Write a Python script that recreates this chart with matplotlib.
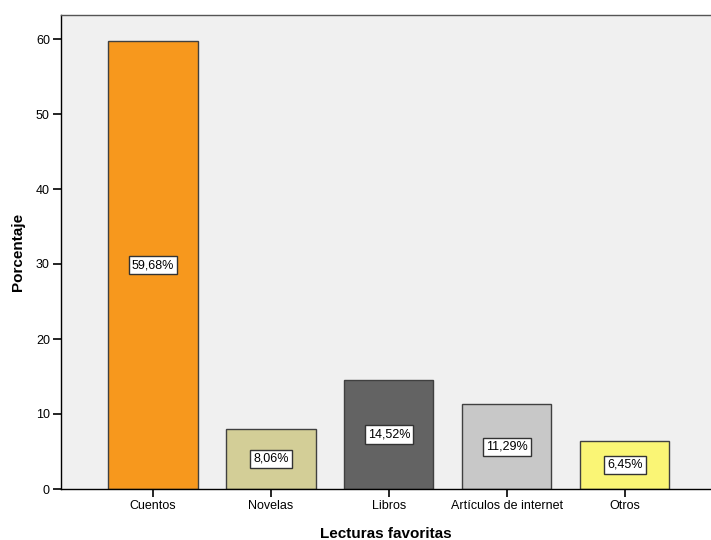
import matplotlib
matplotlib.use("Agg")
import matplotlib.pyplot as plt

categories = ["Cuentos", "Novelas", "Libros", "Artículos de internet", "Otros"]
values = [59.68, 8.06, 14.52, 11.29, 6.45]
labels = ["59,68%", "8,06%", "14,52%", "11,29%", "6,45%"]
colors = ["#F7981D", "#D3CE97", "#636363", "#C8C8C8", "#FAF575"]
yticks = [0, 10, 20, 30, 40, 50, 60]

plt.rcParams['font.family'] = ['Liberation Sans', 'DejaVu Sans']

fig = plt.figure(figsize=(7.11, 5.40), dpi=100)
ax = fig.add_axes([61/711, 1-489/540, 1-61/711, (489-15)/540])
ax.set_facecolor("#F0F0F0")

x = list(range(len(categories)))
ax.bar(x, values, width=0.755, color=colors, edgecolor="#404040", linewidth=1.0, zorder=2)
for xi, v, lab in zip(x, values, labels):
    ax.text(xi, v/2, lab, ha="center", va="center", fontsize=9, color="black",
            bbox=dict(boxstyle="square,pad=0.25", fc="white", ec="#333333", lw=1.0), zorder=3)

ax.set_xlim(-0.78, 4.73)
ax.set_ylim(0, 63.2)
ax.set_xticks(x)
ax.set_xticklabels(categories, fontsize=9)
ax.set_yticks(yticks)
ax.set_yticklabels([str(t) for t in yticks], fontsize=9)
ax.tick_params(axis="both", length=6, width=1.2, color="black", pad=2)
for s in ["top", "left", "bottom"]:
    ax.spines[s].set_linewidth(1.0)
ax.spines["top"].set_color("#555555")
ax.spines["right"].set_visible(False)
ax.set_xlabel("Lecturas favoritas", fontsize=11, fontweight="bold", labelpad=11)
ax.set_ylabel("Porcentaje", fontsize=11, fontweight="bold", labelpad=8)

fig.savefig("out.png", dpi=100, facecolor="white")
